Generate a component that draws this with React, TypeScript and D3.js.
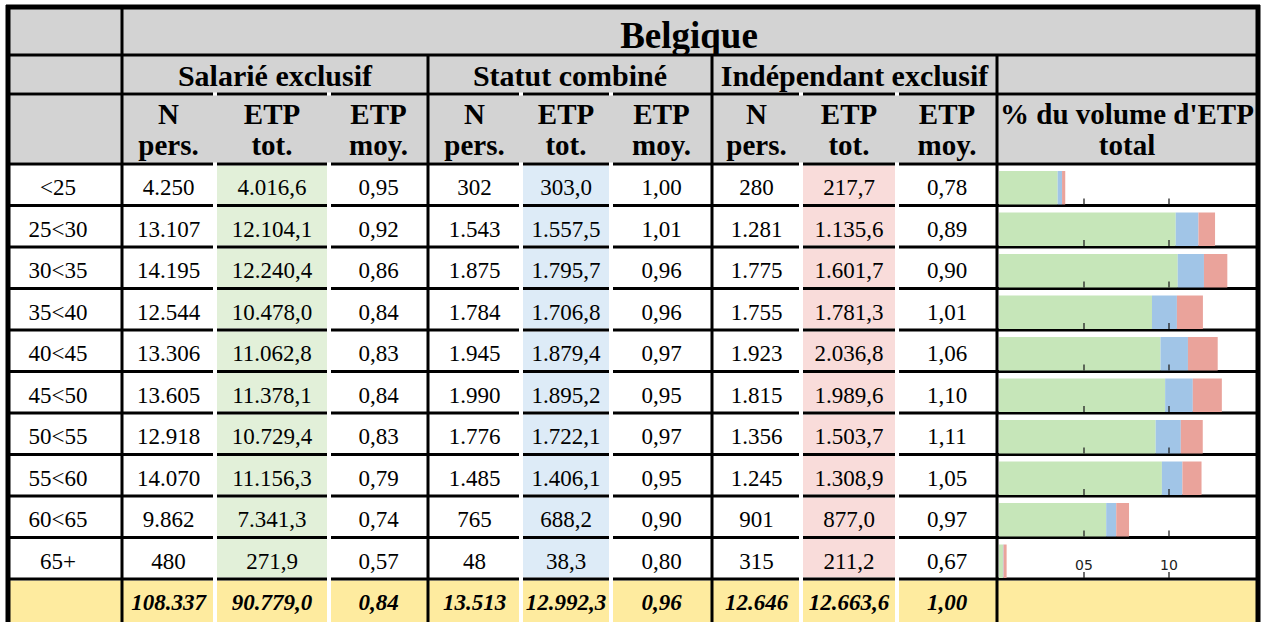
import { useEffect, useRef } from 'react';
import * as d3 from 'd3';

// age classes (rows)
const ageGroups = ['<25', '25<30', '30<35', '35<40', '40<45', '45<50', '50<55', '55<60', '60<65', '65+'];

const groupNames = ['Salarié exclusif', 'Statut combiné', 'Indépendant exclusif'];
const colHeads = [['N', 'pers.'], ['ETP', 'tot.'], ['ETP', 'moy.']];

// Salarié exclusif
const salN = [4250, 13107, 14195, 12544, 13306, 13605, 12918, 14070, 9862, 480];
const salEtp = [4016.6, 12104.1, 12240.4, 10478.0, 11062.8, 11378.1, 10729.4, 11156.3, 7341.3, 271.9];
const salMoy = [0.95, 0.92, 0.86, 0.84, 0.83, 0.84, 0.83, 0.79, 0.74, 0.57];
// Statut combiné
const combN = [302, 1543, 1875, 1784, 1945, 1990, 1776, 1485, 765, 48];
const combEtp = [303.0, 1557.5, 1795.7, 1706.8, 1879.4, 1895.2, 1722.1, 1406.1, 688.2, 38.3];
const combMoy = [1.00, 1.01, 0.96, 0.96, 0.97, 0.95, 0.97, 0.95, 0.90, 0.80];
// Indépendant exclusif
const indN = [280, 1281, 1775, 1755, 1923, 1815, 1356, 1245, 901, 315];
const indEtp = [217.7, 1135.6, 1601.7, 1781.3, 2036.8, 1989.6, 1503.7, 1308.9, 877.0, 211.2];
const indMoy = [0.78, 0.89, 0.90, 1.01, 1.06, 1.10, 1.11, 1.05, 0.97, 0.67];

// totals row
const totalN = [108337, 13513, 12646];
const totalEtp = [90779.0, 12992.3, 12663.6];
const totalMoy = [0.84, 0.96, 1.00];

const axisTicks = [0.05, 0.10];
const axisTickLabels = ['05', '10'];

const W = 1262;
const H = 622;
const serif = '"Liberation Serif", "Times New Roman", serif';

export default function App() {
  const svgRef = useRef<SVGSVGElement>(null);

  useEffect(() => {
    const svg = d3.select(svgRef.current);
    svg.selectAll('*').remove();

    const loc = d3.formatLocale({ decimal: ',', thousands: '.', grouping: [3], currency: ['', ''] });
    const fInt = loc.format(',d');
    const fEtp = loc.format(',.1f');
    const fMoy = loc.format('.2f');

    // column edges: label | 3 groups x 3 cols | bar column
    const edges = [10, 122, 215, 329, 428, 521, 611, 712, 801, 897, 997, 1256];
    const groupEdges = [122, 428, 712, 997];
    const yTitle = [9, 55];
    const ySub = [55, 94];
    const yHead = [94, 164];
    const yTot = [579, 622];

    const rowY = d3.scaleBand().domain(ageGroups).range([164, 579]);
    const barX = d3.scaleLinear().domain([0, 0.15]).range([999, 1254]);

    const grey = '#d3d3d3';
    const yellow = '#feeb9f';
    const etpFill = ['#e2f0d9', '#ddebf7', '#f9dcda'];
    const barFill = ['#c6e6b9', '#a1c5e7', '#eaa39b'];

    const series = [
      [salN, salEtp, salMoy],
      [combN, combEtp, combMoy],
      [indN, indEtp, indMoy],
    ];
    const grandEtp = d3.sum(totalEtp);

    // background
    svg.append('rect').attr('width', W).attr('height', H).attr('fill', '#fff');
    // header bands
    svg.append('rect').attr('x', 10).attr('y', 9).attr('width', 1246).attr('height', yHead[1] - 9).attr('fill', grey);

    // cell x bounds with white gaps inside groups
    const cellBounds = (c: number) => {
      const inner = !groupEdges.includes(edges[c]);
      const innerR = !groupEdges.includes(edges[c + 1]) && c + 1 < edges.length - 1;
      return [edges[c] + (inner && c > 0 ? 2 : 0), edges[c + 1] - (innerR ? 2 : 0)];
    };

    // colored ETP tot cells
    [0, 1, 2].forEach(g => {
      const c = 1 + g * 3 + 1;
      const [x0, x1] = cellBounds(c);
      svg.append('rect').attr('x', x0).attr('y', yHead[1]).attr('width', x1 - x0)
        .attr('height', rowY.range()[1] - yHead[1]).attr('fill', etpFill[g]);
    });

    // totals row yellow cells
    for (let c = 0; c < edges.length - 1; c++) {
      const [x0, x1] = cellBounds(c);
      svg.append('rect').attr('x', x0).attr('y', yTot[0]).attr('width', x1 - x0)
        .attr('height', yTot[1] - yTot[0]).attr('fill', yellow);
    }

    // horizontal lines
    const hLine = (y: number, gaps: boolean) => {
      if (!gaps) {
        svg.append('line').attr('x1', 10).attr('x2', 1256).attr('y1', y).attr('y2', y)
          .attr('stroke', '#000').attr('stroke-width', 3);
        return;
      }
      svg.append('line').attr('x1', 10).attr('x2', 1256).attr('y1', y).attr('y2', y)
        .attr('stroke', '#fff').attr('stroke-width', 3);
      for (let c = 0; c < edges.length - 1; c++) {
        const [x0, x1] = cellBounds(c);
        svg.append('line').attr('x1', x0).attr('x2', x1).attr('y1', y).attr('y2', y)
          .attr('stroke', '#000').attr('stroke-width', 3);
      }
    };
    hLine(yTitle[1], false);
    hLine(ySub[1], true);
    hLine(yHead[1], true);
    ageGroups.forEach(a => hLine((rowY(a) as number) + rowY.bandwidth(), true));

    // mini bars (share of total ETP)
    ageGroups.forEach((a, i) => {
      const y0 = (rowY(a) as number) + 7;
      const y1 = (rowY(a) as number) + rowY.bandwidth() - 1;
      let acc = 0;
      series.forEach((s, g) => {
        const v = s[1][i] / grandEtp;
        svg.append('rect').attr('x', barX(acc)).attr('y', y0)
          .attr('width', barX(acc + v) - barX(acc)).attr('height', y1 - y0)
          .attr('fill', barFill[g]);
        acc += v;
      });
      axisTicks.forEach(t => {
        svg.append('line').attr('x1', barX(t)).attr('x2', barX(t))
          .attr('y1', y1 - 6).attr('y2', y1).attr('stroke', '#222').attr('stroke-width', 1.3);
      });
      if (i === ageGroups.length - 1) {
        axisTicks.forEach((t, k) => {
          svg.append('text').attr('x', barX(t)).attr('y', y1 - 8)
            .attr('text-anchor', 'middle').attr('font-family', '"DejaVu Sans", sans-serif')
            .attr('font-size', 14).attr('fill', '#222').text(axisTickLabels[k]);
        });
      }
    });

    // vertical group lines
    svg.append('line').attr('x1', 122).attr('x2', 122).attr('y1', 9).attr('y2', H)
      .attr('stroke', '#000').attr('stroke-width', 3);
    groupEdges.slice(1).forEach(x => {
      svg.append('line').attr('x1', x).attr('x2', x).attr('y1', yTitle[1]).attr('y2', H)
        .attr('stroke', '#000').attr('stroke-width', 3);
    });

    // outer border
    svg.append('line').attr('x1', 6).attr('x2', 1260).attr('y1', 7).attr('y2', 7)
      .attr('stroke', '#000').attr('stroke-width', 5);
    svg.append('line').attr('x1', 8).attr('x2', 8).attr('y1', 5).attr('y2', H)
      .attr('stroke', '#000').attr('stroke-width', 5);
    svg.append('line').attr('x1', 1258).attr('x2', 1258).attr('y1', 5).attr('y2', H)
      .attr('stroke', '#000').attr('stroke-width', 5);

    const txt = (x: number, y: number, s: string, size: number, weight = 'normal', style = 'normal') =>
      svg.append('text').attr('x', x).attr('y', y).attr('text-anchor', 'middle')
        .attr('font-family', serif)
        .attr('font-size', size).attr('font-weight', weight).attr('font-style', style)
        .attr('fill', '#000').text(s);

    // title and group headers
    txt((122 + 1256) / 2, 48, 'Belgique', 37, 'bold');
    groupNames.forEach((g, k) => txt((groupEdges[k] + groupEdges[k + 1]) / 2, 86, g, 30, 'bold'));
    for (let c = 1; c <= 9; c++) {
      const h = colHeads[(c - 1) % 3];
      const cx = (edges[c] + edges[c + 1]) / 2;
      txt(cx, 124, h[0], 29, 'bold');
      txt(cx, 155, h[1], 29, 'bold');
    }
    txt(1127, 124, "% du volume d'ETP", 29, 'bold');
    txt(1127, 155, 'total', 29, 'bold');

    // data rows
    ageGroups.forEach((a, i) => {
      const by = (rowY(a) as number) + 31;
      txt(58, by, a, 23);
      series.forEach((s, g) => {
        const base = 1 + g * 3;
        txt((edges[base] + edges[base + 1]) / 2, by, fInt(s[0][i]), 23);
        txt((edges[base + 1] + edges[base + 2]) / 2, by, fEtp(s[1][i]), 23);
        txt((edges[base + 2] + edges[base + 3]) / 2, by, fMoy(s[2][i]), 23);
      });
    });

    // totals
    const ty = 610;
    [0, 1, 2].forEach(g => {
      const base = 1 + g * 3;
      txt((edges[base] + edges[base + 1]) / 2, ty, fInt(totalN[g]), 23, 'bold', 'italic');
      txt((edges[base + 1] + edges[base + 2]) / 2, ty, fEtp(totalEtp[g]), 23, 'bold', 'italic');
      txt((edges[base + 2] + edges[base + 3]) / 2, ty, fMoy(totalMoy[g]), 23, 'bold', 'italic');
    });
  }, []);

  return <svg ref={svgRef} width={W} height={H} style={{ position: 'absolute', left: 0, top: 0 }} />;
}
